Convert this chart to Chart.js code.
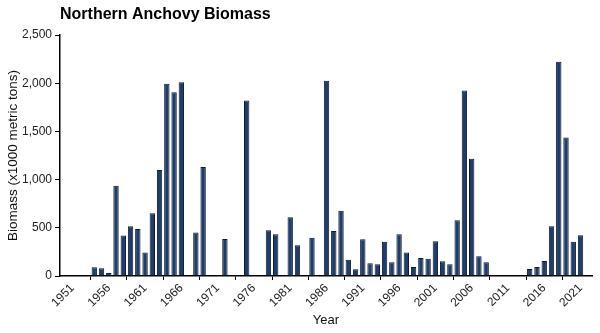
<!DOCTYPE html>
<html>
<head>
<meta charset="utf-8">
<script src="https://cdn.jsdelivr.net/npm/chart.js@4.4.1/dist/chart.umd.min.js"></script>
<style>
  html, body { margin: 0; padding: 0; background: #fff; }
  #wrap { width: 600px; height: 333px; }
</style>
</head>
<body>
<div id="wrap"><canvas id="chart" width="600" height="333"></canvas></div>
<script>
// Years 1951-2021, null where there is no bar
const years = [];
for (let y = 1951; y <= 2021; y++) years.push(y);

const biomass = [
    3, null, 3, 90, 80, 30, 935, 420, 515, 487,          // 1951-1960
    245, 650, 1100, 1995, 1905, 2010, null, 450, 1130, null, // 1961-1970
    null, 384, null, null, 1820, null, null, 474, 432, null, // 1971-1980
    609, 318, null, 398, null, 2025, 467, 677, 169, 69,    // 1981-1990
    380, 131, 121, 356, 142, 432, 245, 93, 187, 180,       // 1991-2000
    360, 152, 121, 578, 1925, 1217, 204, 142, 10, 4,       // 2001-2010
    4, null, null, 73, 93, 156, 515, 2222, 1438, 356,      // 2011-2020
    422                                                    // 2021
];

const xTicks = [1951, 1956, 1961, 1966, 1971, 1976, 1981, 1986, 1991, 1996, 2001, 2006, 2011, 2016, 2021];
const yTicks = [0, 500, 1000, 1500, 2000, 2500];

Chart.defaults.font.family = "'Liberation Sans', Arial, sans-serif";
Chart.defaults.color = '#222';

// title sits flush with the y axis, like the original
const titlePlugin = {
    id: 'leftTitle',
    afterDraw(chart) {
        const ctx = chart.ctx;
        ctx.save();
        ctx.font = "bold 16px 'Liberation Sans', Arial, sans-serif";
        ctx.fillStyle = '#000';
        ctx.textBaseline = 'middle';
        ctx.textAlign = 'left';
        ctx.fillText('Northern Anchovy Biomass', chart.chartArea.left, 15);
        ctx.restore();
    }
};

new Chart(document.getElementById('chart'), {
    type: 'bar',
    data: {
        datasets: [{
            data: years.map((y, i) => ({ x: y, y: biomass[i] })),
            backgroundColor: '#1f3d66',
            borderColor: '#0c1a33',
            borderWidth: 1,
            barPercentage: 0.74,
            categoryPercentage: 1.0
        }]
    },
    options: {
        responsive: false,
        animation: false,
        layout: { padding: { top: 35, right: 8, left: 0, bottom: 0 } },
        plugins: {
            legend: { display: false },
            tooltip: { enabled: false }
        },
        scales: {
            x: {
                type: 'linear',
                offset: false,
                min: 1949.28,
                max: 2022.58,
                afterBuildTicks: (scale) => {
                    scale.ticks = xTicks.map(v => ({ value: v }));
                },
                afterFit: (scale) => { scale.height = 57; },
                grid: { drawOnChartArea: false, drawTicks: true, tickLength: 4, color: '#000' },
                border: { display: true, color: '#000', width: 1.5 },
                ticks: {
                    autoSkip: false,
                    minRotation: 45,
                    maxRotation: 45,
                    padding: 1,
                    font: { size: 12 },
                    callback: (v) => String(v)
                },
                title: {
                    display: true,
                    text: 'Year',
                    font: { size: 13 },
                    color: '#111',
                    padding: { top: 0, bottom: 5 }
                }
            },
            y: {
                min: 0,
                max: 2500,
                afterBuildTicks: (scale) => {
                    scale.ticks = yTicks.map(v => ({ value: v }));
                },
                afterFit: (scale) => { scale.width = 60; },
                grid: { drawOnChartArea: false, drawTicks: true, tickLength: 5, color: '#000' },
                border: { display: true, color: '#000', width: 1.5 },
                ticks: {
                    padding: 3,
                    font: { size: 12 },
                    callback: (v) => v.toLocaleString('en-US')
                },
                title: {
                    display: true,
                    text: 'Biomass (x1000 metric tons)',
                    font: { size: 13.5 },
                    color: '#111',
                    padding: { top: 5, bottom: 0 }
                }
            }
        }
    },
    plugins: [titlePlugin]
});
</script>
</body>
</html>
